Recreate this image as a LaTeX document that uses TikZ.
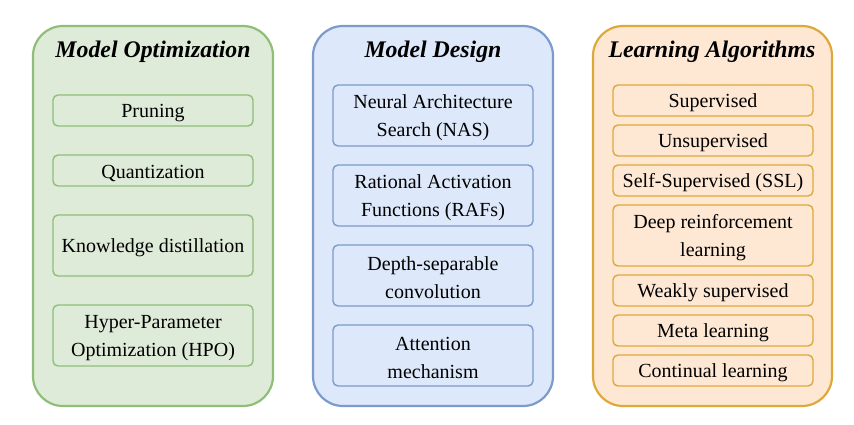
\documentclass[tikz,border=0pt]{standalone}
\usepackage{fontspec}
\setmainfont{Liberation Serif}
\definecolor{gfill}{HTML}{DFEBD9}
\definecolor{gline}{HTML}{90BE78}
\definecolor{bfill}{HTML}{DDE8FA}
\definecolor{bline}{HTML}{7C9BCB}
\definecolor{ofill}{HTML}{FEE8D4}
\definecolor{oline}{HTML}{DEA93A}
\begin{document}
\begin{tikzpicture}[x=1pt,y=-1pt,
  panel/.style={draw=#1, line width=2.2pt, rounded corners=30pt},
  item/.style={draw=#1, line width=1.4pt, rounded corners=5pt},
  itemtext/.style={font=\fontsize{20}{28}\selectfont, align=center, text=black, yshift=-2pt},
  titletext/.style={font=\fontsize{23.8}{28}\selectfont\bfseries\itshape, text=black, yshift=-2pt}]
\useasboundingbox (0,0) rectangle (854,424);
% panels
\draw[panel=gline, fill=gfill] (33,26) rectangle (273,406);
\draw[panel=bline, fill=bfill] (313,26) rectangle (553,406);
\draw[panel=oline, fill=ofill] (593,26) rectangle (832,406);
\node[titletext] (t1) at (153,50) {Model Optimization};
\node[titletext] (t2) at (433,50) {Model Design};
\node[titletext] (t3) at (712,50) {Learning Algorithms};
% green items
\draw[item=gline] (53,95) rectangle (253,126);
\node[itemtext] (g1) at (153,111) {Pruning};
\draw[item=gline] (53,155) rectangle (253,186);
\node[itemtext] (g2) at (153,171) {Quantization};
\draw[item=gline] (53,215) rectangle (253,276);
\node[itemtext] (g3) at (153,246) {Knowledge distillation};
\draw[item=gline] (53,305) rectangle (253,366);
\node[itemtext] (g4) at (153,336) {Hyper-Parameter\\Optimization (HPO)};
% blue items
\draw[item=bline] (333,85) rectangle (533,146);
\node[itemtext] (b1) at (433,116) {Neural Architecture\\Search (NAS)};
\draw[item=bline] (333,165) rectangle (533,226);
\node[itemtext] (b2) at (433,196) {Rational Activation\\Functions (RAFs)};
\draw[item=bline] (333,245) rectangle (533,306);
\node[itemtext] (b3) at (433,276) {Depth-separable\\convolution};
\draw[item=bline] (333,325) rectangle (533,386);
\node[itemtext] (b4) at (433,356) {Attention\\mechanism};
% orange items
\draw[item=oline] (613,85) rectangle (813,116);
\node[itemtext] (o1) at (713,101) {Supervised};
\draw[item=oline] (613,125) rectangle (813,156);
\node[itemtext] (o2) at (713,141) {Unsupervised};
\draw[item=oline] (613,165) rectangle (813,196);
\node[itemtext] (o3) at (713,181) {Self-Supervised (SSL)};
\draw[item=oline] (613,205) rectangle (813,266);
\node[itemtext] (o4) at (713,236) {Deep reinforcement\\learning};
\draw[item=oline] (613,275) rectangle (813,306);
\node[itemtext] (o5) at (713,291) {Weakly supervised};
\draw[item=oline] (613,315) rectangle (813,346);
\node[itemtext] (o6) at (713,331) {Meta learning};
\draw[item=oline] (613,355) rectangle (813,386);
\node[itemtext] (o7) at (713,371) {Continual learning};
\end{tikzpicture}
\end{document}
